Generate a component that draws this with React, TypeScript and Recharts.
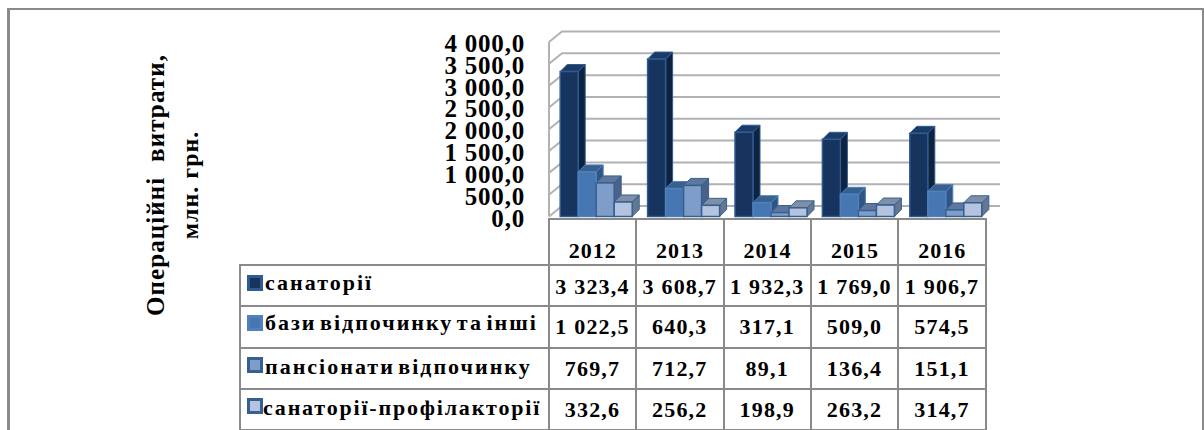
import { Bar, BarChart, CartesianGrid, XAxis, YAxis } from "recharts";

const years = ["2012", "2013", "2014", "2015", "2016"];
const sanatorii = [3323.4, 3608.7, 1932.3, 1769.0, 1906.7];
const bazy = [1022.5, 640.3, 317.1, 509.0, 574.5];
const pansionaty = [769.7, 712.7, 89.1, 136.4, 151.1];
const profilaktorii = [332.6, 256.2, 198.9, 263.2, 314.7];
const yTicks = [0, 500, 1000, 1500, 2000, 2500, 3000, 3500, 4000];

const serif = "'Liberation Serif', 'Times New Roman', serif";
const gridGray = "#b2b2b2";
const tableGray = "#8a8a8a";

const series = [
  { key: "sanatorii", name: "санаторії", values: sanatorii, front: "#16345e", side: "#0e2340", top: "#1c3a66", edge: "#2f5b93" },
  { key: "bazy", name: "бази відпочинку та інші", values: bazy, front: "#4777b2", side: "#2f5585", top: "#37608f", edge: "#4f81bd" },
  { key: "pansionaty", name: "пансіонати відпочинку", values: pansionaty, front: "#7f9dc9", side: "#4a6288", top: "#5f779c", edge: "#36608f" },
  { key: "profilaktorii", name: "санаторії-профілакторії", values: profilaktorii, front: "#b4c3df", side: "#667791", top: "#7f8fa8", edge: "#36608f" },
];

const data = years.map((year, i) => ({
  year,
  sanatorii: sanatorii[i],
  bazy: bazy[i],
  pansionaty: pansionaty[i],
  profilaktorii: profilaktorii[i],
}));

// 4 000,0 style numbers
const fmt = (v: number) => {
  const [whole, dec] = v.toFixed(1).split(".");
  return `${whole.replace(/\B(?=(\d{3})+$)/g, " ")},${dec}`;
};

const Bar3D = (s: (typeof series)[number]) => (props: any) => {
  const { x, y, width, height } = props;
  const left = x + 3.5;
  const right = left + width;
  const bottom = y + height;
  const dx = 7;
  const dy = 7;
  return (
    <g>
      <polygon points={`${right},${y} ${right + dx},${y - dy} ${right + dx},${bottom - dy} ${right},${bottom}`} fill={s.side} stroke={s.edge} strokeWidth={1} />
      <polygon points={`${left},${y} ${left + dx},${y - dy} ${right + dx},${y - dy} ${right},${y}`} fill={s.top} stroke={s.edge} strokeWidth={1} />
      <rect x={left} y={y} width={width} height={height} fill={s.front} stroke={s.edge} strokeWidth={1.5} />
    </g>
  );
};

const BackGridLine = (props: any) => {
  const { x1, x2, y1 } = props;
  return (
    <polyline
      points={`${x1},${y1} ${x1 + 13},${y1 - 10.5} ${x2 + 14},${y1 - 10.5}`}
      fill="none"
      stroke={gridGray}
      strokeWidth={2}
    />
  );
};

const YTick = (props: any) => (
  <text x={props.x + 2} y={props.y + 10} textAnchor="end" fontFamily={serif} fontWeight="bold" fontSize={25} letterSpacing={0.8} fill="#000">
    {fmt(props.payload.value)}
  </text>
);

const XTick = (props: any) => (
  <text x={props.x} y={258} textAnchor="middle" fontFamily={serif} fontWeight="bold" fontSize={22} letterSpacing={1} fill="#000">
    {props.payload.value}
  </text>
);

const line = (left: number, top: number, width: number, height: number) => (
  <div style={{ position: "absolute", left, top, width, height, background: tableGray }} />
);

const colX = [549, 636, 723.5, 811, 898, 986];
const rowY = [265, 305, 347, 388, 429];
const legendNudge = [0, 0, 2, 2];

export default function App() {
  return (
    <div style={{ position: "absolute", left: 0, top: 0, width: 1204, height: 430, overflow: "hidden", background: "#fff", fontFamily: serif }}>
      {line(7, 8, 1197, 2)}
      {line(7, 8, 3, 422)}
      {line(1202, 8, 2, 422)}

      <div style={{ position: "absolute", left: 156, top: 185, transform: "translate(-50%,-50%) rotate(-90deg)", whiteSpace: "pre", fontWeight: "bold", fontSize: 25, letterSpacing: 1.1 }}>
        {"Операційні  витрати,"}
      </div>
      <div style={{ position: "absolute", left: 190, top: 185, transform: "translate(-50%,-50%) rotate(-90deg)", whiteSpace: "pre", fontWeight: "bold", fontSize: 24, letterSpacing: 1 }}>
        млн. грн.
      </div>

      <div style={{ position: "absolute", left: 0, top: 0 }}>
        <BarChart
          width={1204}
          height={430}
          data={data}
          barGap={0}
          barCategoryGap={7.7}
          margin={{ left: 439, right: 218, top: 42, bottom: 165.5 }}
        >
          <CartesianGrid vertical={false} horizontal={BackGridLine} syncWithTicks />
          <XAxis dataKey="year" height={48} axisLine={false} tickLine={false} tick={XTick} interval={0} />
          <YAxis width={110} domain={[0, 4000]} ticks={yTicks} axisLine={{ stroke: gridGray, strokeWidth: 2 }} tickLine={false} tick={YTick} tickMargin={20} interval={0} />
          {series.map((s) => (
            <Bar key={s.key} dataKey={s.key} fill={s.front} isAnimationActive={false} shape={Bar3D(s)} />
          ))}
        </BarChart>
      </div>

      {line(548, 218, 439, 2)}
      {colX.map((x) => line(x - 1, 218, 2, 212))}
      {line(239, 264, 748, 2)}
      {rowY.slice(1).map((y) => line(239, y, 748, 2))}
      {line(239, 264, 2, 166)}

      {series.map((s, r) => (
        <div key={s.key}>
          <div style={{ position: "absolute", left: 247, top: rowY[r] + 10, width: 10, height: 10, background: s.front, border: `3px solid ${s.edge}` }} />
          <div style={{ position: "absolute", left: r === 3 ? 263 : 265, top: rowY[r] + 5 + legendNudge[r], whiteSpace: "pre", fontWeight: "bold", fontSize: 22, letterSpacing: r === 3 ? 1.8 : 2, wordSpacing: -4, lineHeight: "26px" }}>
            {s.name}
          </div>
          {s.values.map((v, c) => (
            <div key={c} style={{ position: "absolute", left: colX[c], width: colX[c + 1] - colX[c], top: rowY[r] + 9, textAlign: "center", fontWeight: "bold", fontSize: 22, letterSpacing: 1.2, lineHeight: "26px" }}>
              {fmt(v)}
            </div>
          ))}
        </div>
      ))}
    </div>
  );
}
